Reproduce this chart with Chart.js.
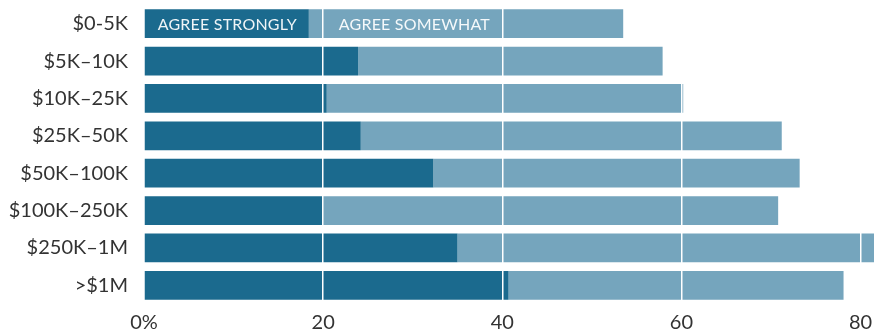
<!DOCTYPE html>
<html>
<head>
<meta charset="utf-8">
<script src="https://cdn.jsdelivr.net/npm/chart.js@4"></script>
<style>
  html, body { margin: 0; padding: 0; background: #fff; }
  #wrap { width: 874px; height: 329px; position: relative; }
</style>
</head>
<body>
<div id="wrap"><canvas id="incomeChart"></canvas></div>
<script>
// Income brackets, top to bottom
const brackets = ['$0-5K', '$5K–10K', '$10K–25K', '$25K–50K', '$50K–100K', '$100K–250K', '$250K–1M', '>$1M'];

// Share of respondents (%)
const agreeStrongly = [18.4, 23.9, 20.4, 24.2, 32.3, 20.0, 35.0, 40.7];
const agreeSomewhat = [35.1, 34.0, 39.8, 47.0, 40.9, 50.8, 47.0, 37.4];

const seriesNames = ['AGREE STRONGLY', 'AGREE SOMEWHAT'];
const xTicks = [0, 20, 40, 60, 80];

const DARK = '#1b6a8e';
const LIGHT = '#75a5bd';
const FONT = 'Lato, "Open Sans", sans-serif';

// Writes the series names inside the first bar instead of a legend
const inBarLabels = {
    id: 'inBarLabels',
    afterDraw(chart) {
        const { ctx } = chart;
        const offsets = [13, 30];
        ctx.save();
        ctx.font = '16px ' + FONT;
        ctx.letterSpacing = '0.2px';
        ctx.fillStyle = 'rgba(255, 255, 255, 0.93)';
        ctx.textAlign = 'left';
        ctx.textBaseline = 'middle';
        chart.data.datasets.forEach((ds, i) => {
            const bar = chart.getDatasetMeta(i).data[0];
            if (!bar) return;
            ctx.fillText(ds.label, bar.base + offsets[i], bar.y + 1);
        });
        ctx.restore();
    }
};

new Chart(document.getElementById('incomeChart'), {
    type: 'bar',
    data: {
        labels: brackets,
        datasets: [
            { label: seriesNames[0], data: agreeStrongly, backgroundColor: DARK },
            { label: seriesNames[1], data: agreeSomewhat, backgroundColor: LIGHT }
        ]
    },
    options: {
        indexAxis: 'y',
        responsive: true,
        maintainAspectRatio: false,
        animation: false,
        layout: { padding: { top: 5, right: 0, bottom: 0, left: 0 } },
        datasets: {
            bar: { categoryPercentage: 1, barPercentage: 0.77, borderWidth: 0 }
        },
        plugins: {
            legend: { display: false },
            tooltip: { enabled: false }
        },
        scales: {
            x: {
                stacked: true,
                min: 0,
                max: 81.5,
                afterBuildTicks: (scale) => {
                    scale.ticks = xTicks.map(v => ({ value: v }));
                },
                afterFit: (scale) => {
                    scale.height = 25;
                    scale.paddingLeft = 0;
                    scale.paddingRight = 0;
                },
                border: { display: false },
                grid: {
                    z: 1, // white grid lines sit on top of the bars
                    drawTicks: false,
                    lineWidth: 1.5,
                    color: (c) => (c.tick && c.tick.value === 0 ? 'rgba(0,0,0,0)' : '#ffffff')
                },
                ticks: {
                    padding: 7,
                    color: '#333333',
                    font: { family: FONT, size: 20 },
                    maxRotation: 0,
                    callback: (v) => (v === 0 ? '0%' : String(v))
                }
            },
            y: {
                stacked: true,
                afterFit: (scale) => {
                    scale.width = 144;
                    scale.paddingTop = 0;
                    scale.paddingBottom = 0;
                },
                border: { display: false },
                grid: { display: false, drawTicks: false },
                ticks: {
                    padding: 16,
                    color: '#333333',
                    font: { family: FONT, size: 20 }
                }
            }
        }
    },
    plugins: [inBarLabels]
});
</script>
</body>
</html>
